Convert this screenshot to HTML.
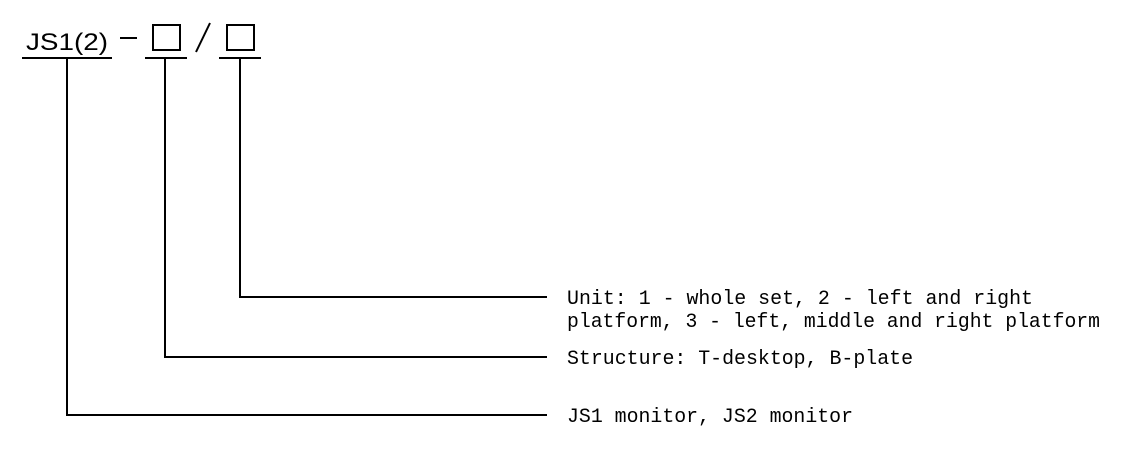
<!DOCTYPE html>
<html><head><style>
body{margin:0;width:1141px;height:453px;background:#fff;overflow:hidden}
</style></head><body>
<svg width="1141" height="453" xmlns="http://www.w3.org/2000/svg">
<g stroke="#000" stroke-width="2" fill="none">
<line x1="22" y1="58" x2="112" y2="58"/>
<line x1="145" y1="58" x2="187" y2="58"/>
<line x1="219" y1="58" x2="261" y2="58"/>
<line x1="67" y1="58" x2="67" y2="415"/>
<line x1="66" y1="415" x2="547" y2="415"/>
<line x1="165" y1="58" x2="165" y2="357"/>
<line x1="164" y1="357" x2="547" y2="357"/>
<line x1="240" y1="58" x2="240" y2="297"/>
<line x1="239" y1="297" x2="547" y2="297"/>
<rect x="153" y="25" width="27" height="25"/>
<rect x="227" y="25" width="27" height="25"/>
<line x1="120" y1="38" x2="137" y2="38"/>
<line x1="210" y1="23" x2="196" y2="52"/>
</g>
<text x="26" y="50" font-family="Liberation Sans, sans-serif" font-size="24" textLength="82" lengthAdjust="spacingAndGlyphs">JS1(2)</text>
<g font-family="Liberation Mono, monospace" font-size="20">
<text x="567" y="304" textLength="466" lengthAdjust="spacingAndGlyphs">Unit: 1 - whole set, 2 - left and right</text>
<text x="567" y="327" textLength="533" lengthAdjust="spacingAndGlyphs">platform, 3 - left, middle and right platform</text>
<text x="567" y="364" textLength="346" lengthAdjust="spacingAndGlyphs">Structure: T-desktop, B-plate</text>
<text x="567" y="422" textLength="286" lengthAdjust="spacingAndGlyphs">JS1 monitor, JS2 monitor</text>
</g>
</svg>
</body></html>
